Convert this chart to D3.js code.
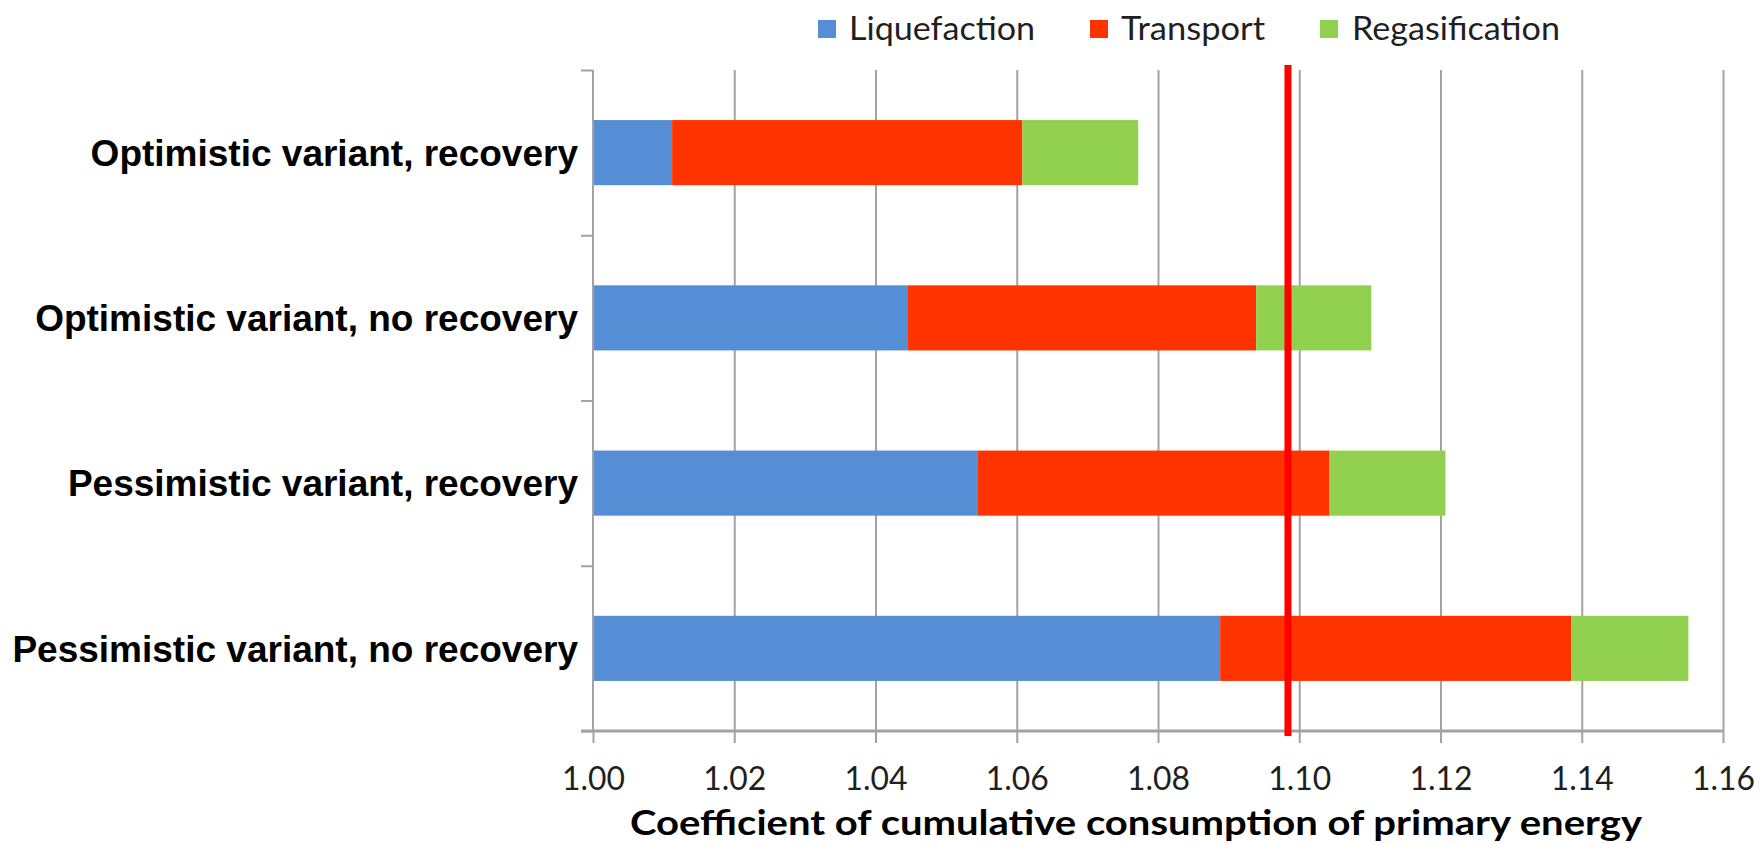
<!DOCTYPE html>
<html><head><meta charset="utf-8">
<script src="https://cdn.jsdelivr.net/npm/d3@7"></script>
<style>body{margin:0;background:#fff}</style>
</head><body>
<svg id="chart" width="1762" height="844"></svg>
<script>
// ---- data ----
const categories = [
  "Optimistic variant, recovery",
  "Optimistic variant, no recovery",
  "Pessimistic variant, recovery",
  "Pessimistic variant, no recovery"
];
const seriesNames = ["Liquefaction", "Transport", "Regasification"];
const liquefaction   = [0.0112, 0.0445, 0.0545, 0.0888];
const transport      = [0.0496, 0.0494, 0.0498, 0.0497];
const regasification = [0.0164, 0.0163, 0.0164, 0.0166];
const baseValue = 1.00;
const referenceValue = 1.0984;
const xTicks = [1.00, 1.02, 1.04, 1.06, 1.08, 1.10, 1.12, 1.14, 1.16];
const xTickLabels = ["1.00", "1.02", "1.04", "1.06", "1.08", "1.10", "1.12", "1.14", "1.16"];
const axisTitle = "Coefficient of cumulative consumption of primary energy";

// ---- setup ----
const colors = {"Liquefaction": "#558ed5", "Transport": "#ff3300", "Regasification": "#92d050"};
const svg = d3.select("#chart");
const L = 593, R = 1723, T = 70, B = 731;
const calib = "Lato, 'Liberation Sans', sans-serif";

const x = d3.scaleLinear().domain([xTicks[0], xTicks[xTicks.length - 1]]).range([L, R]);
const y = d3.scaleBand().domain(categories).range([T, B]).paddingInner(0.606).paddingOuter(0.303);
const yEdge = d3.scaleLinear().domain([0, categories.length]).range([T, B]);

const rows = categories.map((c, i) => ({
  category: c,
  Liquefaction: liquefaction[i],
  Transport: transport[i],
  Regasification: regasification[i]
}));
const stacked = d3.stack().keys(seriesNames)(rows);

// gridlines
const grid = svg.append("g").attr("transform", `translate(0,${B})`)
  .call(d3.axisBottom(x).tickValues(xTicks.slice(1)).tickSize(-(B - T)).tickFormat(""));
grid.select(".domain").remove();
grid.selectAll("line").attr("stroke", "#a3a3a3").attr("stroke-width", 2);

// bars
svg.append("g").selectAll("g").data(stacked).join("g")
  .attr("fill", d => colors[d.key])
  .selectAll("rect").data(d => d).join("rect")
  .attr("x", d => x(baseValue + d[0]))
  .attr("width", d => x(baseValue + d[1]) - x(baseValue + d[0]))
  .attr("y", d => y(d.data.category))
  .attr("height", y.bandwidth());

// left axis with boundary ticks
const yAxisG = svg.append("g").attr("transform", `translate(${L},0)`)
  .call(d3.axisLeft(yEdge).tickValues(d3.range(categories.length + 1)).tickSize(12).tickFormat(""));
yAxisG.select(".domain").attr("stroke", "#a3a3a3").attr("stroke-width", 2).attr("d", `M0,${T}V${B}`);
yAxisG.selectAll("line").attr("stroke", "#a3a3a3").attr("stroke-width", 2);

// category labels
const catG = svg.append("g").attr("transform", `translate(${L},0)`)
  .call(d3.axisLeft(y).tickSize(0).tickPadding(15));
catG.select(".domain").remove();
catG.selectAll("text")
  .attr("font-family", "'Liberation Sans', Arial, sans-serif")
  .attr("font-weight", "bold").attr("font-size", 37).attr("fill", "#000")
  .attr("dy", "0.36em");

// bottom axis
const xAxisG = svg.append("g").attr("transform", `translate(0,${B})`)
  .call(d3.axisBottom(x).tickValues(xTicks).tickSize(12).tickPadding(24)
    .tickFormat((d, i) => xTickLabels[i]));
xAxisG.select(".domain").attr("stroke", "#a3a3a3").attr("stroke-width", 3).attr("d", `M${L - 12},0H${R}`);
xAxisG.selectAll("line").attr("stroke", "#a3a3a3").attr("stroke-width", 2);
xAxisG.selectAll("text")
  .attr("font-family", calib).attr("font-size", 32).attr("fill", "#1f1f1f")
  .attr("dy", "0.71em")
  .attr("textLength", 63).attr("lengthAdjust", "spacingAndGlyphs");

// reference line
svg.append("line")
  .attr("x1", x(referenceValue)).attr("x2", x(referenceValue))
  .attr("y1", T - 5).attr("y2", B + 5)
  .attr("stroke", "#ff0000").attr("stroke-width", 7);

// axis title
svg.append("text")
  .attr("x", 630).attr("y", 835)
  .attr("font-family", calib).attr("font-weight", "bold").attr("font-size", 35)
  .attr("fill", "#000")
  .attr("textLength", 1012).attr("lengthAdjust", "spacingAndGlyphs")
  .text(axisTitle);

// legend
const legendItems = [
  {name: seriesNames[0], sx: 818, tx: 849, w: 186},
  {name: seriesNames[1], sx: 1090, tx: 1121, w: 144},
  {name: seriesNames[2], sx: 1320, tx: 1352, w: 208}
];
const lg = svg.append("g");
lg.selectAll("rect").data(legendItems).join("rect")
  .attr("x", d => d.sx).attr("y", 20).attr("width", 18).attr("height", 18)
  .attr("fill", d => colors[d.name]);
lg.selectAll("text").data(legendItems).join("text")
  .attr("x", d => d.tx).attr("y", 40)
  .attr("font-family", calib).attr("font-size", 33).attr("fill", "#1f1f1f")
  .attr("textLength", d => d.w).attr("lengthAdjust", "spacingAndGlyphs")
  .text(d => d.name);
</script>
</body></html>
